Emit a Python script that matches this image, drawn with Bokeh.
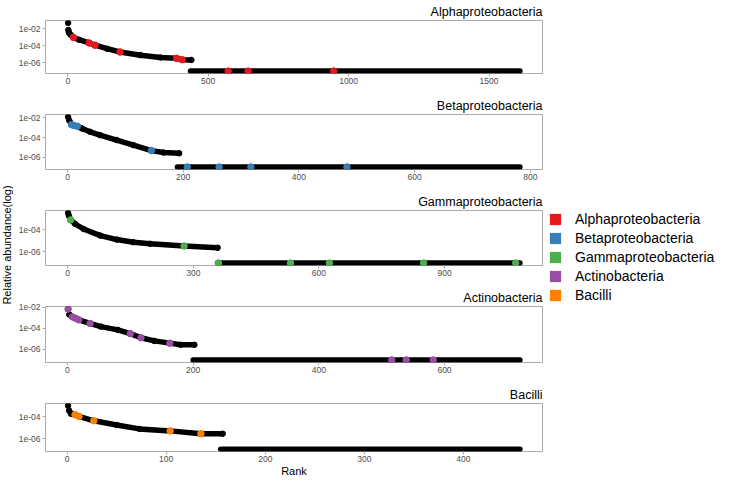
import math
from bokeh.plotting import figure
from bokeh.models import (Range1d, FixedTicker, CustomJSTickFormatter, Legend,
                          LegendItem, Label)
from bokeh.layouts import row, column
from bokeh.embed import file_html
from bokeh.resources import INLINE

FONT = "Liberation Sans"

# ---------------- data ----------------
classes = ["Alphaproteobacteria", "Betaproteobacteria", "Gammaproteobacteria",
           "Actinobacteria", "Bacilli"]
class_colors = ["#E41A1C", "#377EB8", "#4DAF4A", "#984EA3", "#FF7F00"]

tail_value = 1e-07  # abundance of the zero-count tail

# Alphaproteobacteria
alpha_n = 1610
alpha_tail_start = 437
alpha_curve_rank = [1, 2, 4, 10, 20, 40, 76, 97, 140, 186, 259, 330, 387, 407, 440]
alpha_curve_abund = [4.9e-2, 7.1e-3, 3.5e-3, 1.9e-3, 9.3e-4, 5.1e-4, 2.1e-4, 1.15e-4,
                     4.4e-5, 1.8e-5, 7.6e-6, 4.1e-6, 3.2e-6, 2.2e-6, 2.1e-6]
alpha_hit_rank = [20, 76, 97, 186, 387, 407, 571, 642, 947]
alpha_hit_abund = [9.3e-4, 2.1e-4, 1.15e-4, 1.8e-5, 3.2e-6, 2.2e-6, 1e-07, 1e-07, 1e-07]
alpha_ticks = [0, 500, 1000, 1500]

# Betaproteobacteria
beta_n = 782
beta_tail_start = 190
beta_curve_rank = [1, 3, 7, 17, 25, 39, 56, 85, 114, 145, 166, 193]
beta_curve_abund = [1.26e-2, 5.6e-3, 2.1e-3, 1.45e-3, 8.5e-4, 3.9e-4, 1.8e-4, 5.6e-5,
                    1.7e-5, 4.7e-6, 3.0e-6, 2.5e-6]
beta_hit_rank = [7, 11, 17, 145, 207, 262, 317, 483]
beta_hit_abund = [2.1e-3, 1.7e-3, 1.45e-3, 4.7e-6, 1e-07, 1e-07, 1e-07, 1e-07]
beta_ticks = [0, 200, 400, 600, 800]

# Gammaproteobacteria
gamma_n = 1080
gamma_tail_start = 358
gamma_curve_rank = [1, 3, 7, 18, 38, 78, 117, 157, 197, 278, 358]
gamma_curve_abund = [3.5e-3, 2.0e-3, 8.3e-4, 3.5e-4, 1.23e-4, 3.1e-5, 1.35e-5, 7.8e-6,
                     5.6e-6, 3.5e-6, 2.45e-6]
gamma_hit_rank = [7, 278, 360, 532, 625, 850, 1070]
gamma_hit_abund = [8.3e-4, 3.5e-6, 1e-07, 1e-07, 1e-07, 1e-07, 1e-07]
gamma_ticks = [0, 300, 600, 900]

# Actinobacteria
actino_n = 720
actino_tail_start = 200
actino_curve_rank = [1, 3, 8, 13, 18, 36, 53, 80, 100, 117, 138, 163, 180, 202]
actino_curve_abund = [7.1e-3, 2.1e-3, 1.26e-3, 9.3e-4, 6.6e-4, 3.0e-4, 1.5e-4, 7.4e-5,
                      3.2e-5, 1.3e-5, 6.6e-6, 4.0e-6, 2.8e-6, 2.8e-6]
actino_hit_rank = [1, 8, 13, 18, 36, 100, 117, 163, 516, 539, 582]
actino_hit_abund = [7.1e-3, 1.26e-3, 9.3e-4, 6.6e-4, 3.0e-4, 3.2e-5, 1.3e-5, 4.0e-6,
                    1e-07, 1e-07, 1e-07]
actino_ticks = [0, 200, 400, 600]

# Bacilli
bacilli_n = 457
bacilli_tail_start = 155
bacilli_curve_rank = [1, 2, 4, 8, 12, 27, 50, 73, 104, 135, 157]
bacilli_curve_abund = [1.1e-3, 3.9e-4, 1.95e-4, 1.6e-4, 1.12e-4, 4.4e-5, 1.8e-5, 7.8e-6,
                       5.1e-6, 2.8e-6, 2.8e-6]
bacilli_hit_rank = [8, 12, 27, 104, 135]
bacilli_hit_abund = [1.6e-4, 1.12e-4, 4.4e-5, 5.1e-6, 2.8e-6]
bacilli_ticks = [0, 100, 200, 300, 400]

y_ticks = [1e-2, 1e-4, 1e-6]

# ---------------- drawing ----------------
BORDER = "#ABABAB"
PANEL_W = 535          # 32 left border + 497 frame + 6 right border


def make_panel(title, n, tail_start, c_rank, c_ab, h_rank, h_ab, color, ticks,
               height, top, bottom, xlabel=None):
    lo = math.log10(min(c_ab + [tail_value]))
    hi = math.log10(max(c_ab))
    pad = 0.05 * (hi - lo)
    xpad = 0.05 * (n - 1)
    p = figure(width=PANEL_W, height=height, y_axis_type="log",
               x_range=Range1d(1 - xpad, n + xpad),
               y_range=Range1d(10 ** (lo - pad), 10 ** (hi + pad)),
               min_border_left=32, min_border_right=6,
               min_border_top=top, min_border_bottom=bottom,
               toolbar_location=None, output_backend="svg")
    p.outline_line_color = BORDER
    p.outline_line_width = 1
    p.grid.visible = False

    # zero-count tail
    p.segment(x0=[tail_start], y0=[tail_value], x1=[n], y1=[tail_value],
              line_width=5.5, line_color="black", line_cap="round")
    # ranked abundance curve
    p.line(c_rank[1:], c_ab[1:], line_width=5.5, line_color="black",
           line_join="round", line_cap="round")
    p.scatter(c_rank, c_ab, size=5.5, color="black")
    # highlighted taxa
    p.scatter(h_rank, h_ab, size=6.5, color=color)

    p.yaxis.ticker = FixedTicker(ticks=y_ticks)
    p.yaxis.formatter = CustomJSTickFormatter(code="""
        const e = Math.round(Math.log10(tick));
        return "1e" + (e < 0 ? "-" : "+") + String(Math.abs(e)).padStart(2, "0");
    """)
    p.xaxis.ticker = FixedTicker(ticks=ticks)
    for ax in (p.xaxis[0], p.yaxis[0]):
        ax.axis_line_color = None
        ax.major_tick_line_color = BORDER
        ax.major_tick_out = 3
        ax.major_tick_in = 0
        ax.minor_tick_line_color = None
        ax.major_label_text_font = FONT
        ax.major_label_text_font_size = "8.5px"
        ax.major_label_text_color = "#4D4D4D"
        ax.major_label_standoff = 2
    p.xaxis.major_label_standoff = 1

    p.title.text = title
    p.title.align = "right"
    p.title.text_font = FONT
    p.title.text_font_size = "12.5px"
    p.title.text_font_style = "normal"
    p.title.text_color = "black"
    p.title.standoff = 4

    if xlabel:
        p.xaxis.axis_label = xlabel
        p.xaxis.axis_label_text_font = FONT
        p.xaxis.axis_label_text_font_size = "11px"
        p.xaxis.axis_label_text_font_style = "normal"
        p.xaxis.axis_label_text_color = "black"
        p.xaxis.axis_label_standoff = 0
    return p


f1 = make_panel(classes[0], alpha_n, alpha_tail_start, alpha_curve_rank, alpha_curve_abund,
                alpha_hit_rank, alpha_hit_abund, class_colors[0], alpha_ticks, 93, 18, 20)
f2 = make_panel(classes[1], beta_n, beta_tail_start, beta_curve_rank, beta_curve_abund,
                beta_hit_rank, beta_hit_abund, class_colors[1], beta_ticks, 96, 21, 20)
f3 = make_panel(classes[2], gamma_n, gamma_tail_start, gamma_curve_rank, gamma_curve_abund,
                gamma_hit_rank, gamma_hit_abund, class_colors[2], gamma_ticks, 96, 21, 20)
f4 = make_panel(classes[3], actino_n, actino_tail_start, actino_curve_rank, actino_curve_abund,
                actino_hit_rank, actino_hit_abund, class_colors[3], actino_ticks, 97, 21, 20)
f5 = make_panel(classes[4], bacilli_n, bacilli_tail_start, bacilli_curve_rank,
                bacilli_curve_abund, bacilli_hit_rank, bacilli_hit_abund, class_colors[4],
                bacilli_ticks, 97, 21, 28, xlabel="Rank")

TOTAL_H = 479

# y-axis title strip
yf = figure(width=13, height=TOTAL_H, x_range=Range1d(0, 1), y_range=Range1d(0, 1),
            toolbar_location=None, output_backend="svg", min_border_left=0,
            min_border_right=0, min_border_top=0, min_border_bottom=0,
            x_axis_location=None, y_axis_location=None)
yf.outline_line_color = None
yf.grid.visible = False
yf.add_layout(Label(x=0, y=234.5, x_units="screen", y_units="screen",
                    text="Relative abundance(log)", angle=90, angle_units="deg",
                    text_align="center", text_baseline="top", text_font=FONT,
                    text_font_size="11px", text_color="black"))

# legend strip
lf = figure(width=717 - 13 - PANEL_W, height=TOTAL_H, x_range=Range1d(0, 1),
            y_range=Range1d(0, 1), toolbar_location=None, output_backend="svg",
            min_border_left=0, min_border_right=0, min_border_bottom=0,
            min_border_top=34, x_axis_location=None, y_axis_location=None)
lf.outline_line_color = None
lf.grid.visible = False
items = []
for name, col in zip(classes, class_colors):
    r = lf.quad(left=[math.nan], right=[math.nan], top=[math.nan], bottom=[math.nan],
                fill_color=col, line_color=None)
    items.append(LegendItem(label=name, renderers=[r]))
leg = Legend(items=items, location="center_left", margin=0, padding=2,
             glyph_width=14, glyph_height=14, label_standoff=13, spacing=3,
             label_text_font=FONT, label_text_font_size="14px",
             label_text_color="black", border_line_color=None,
             background_fill_alpha=0)
lf.add_layout(leg)

layout = row(yf, column(f1, f2, f3, f4, f5), lf)

open("out.html", "w").write(file_html(layout, INLINE))
